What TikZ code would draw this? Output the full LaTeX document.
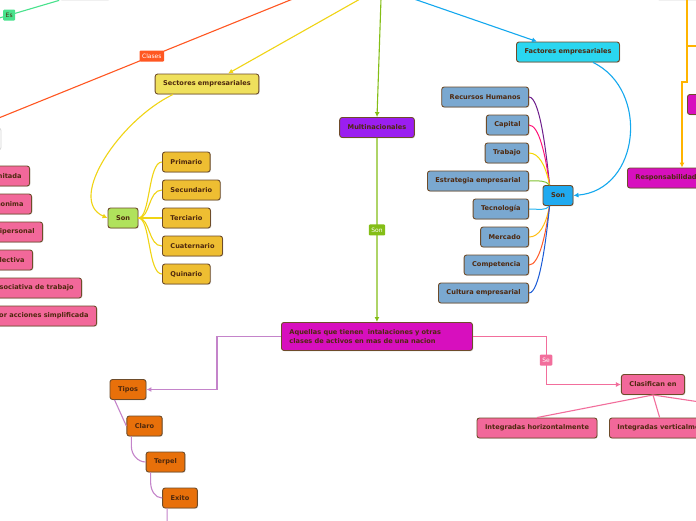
\documentclass[tikz,border=0pt]{standalone}
\usepackage{fontspec}
\setmainfont{DejaVu Sans}
\usetikzlibrary{arrows.meta,shadows}
\definecolor{boxEdge}{RGB}{110, 76, 42}
\definecolor{inkBrown}{RGB}{78, 40, 14}
\definecolor{ghostEdge}{RGB}{215, 215, 215}
\definecolor{pinkFill}{RGB}{242, 104, 154}
\definecolor{sandFill}{RGB}{239, 224, 92}
\definecolor{goldFill}{RGB}{238, 190, 50}
\definecolor{limeFill}{RGB}{176, 226, 92}
\definecolor{violetFill}{RGB}{155, 30, 240}
\definecolor{magentaFill}{RGB}{215, 15, 190}
\definecolor{cyanFill}{RGB}{42, 214, 240}
\definecolor{skyFill}{RGB}{32, 170, 240}
\definecolor{steelFill}{RGB}{122, 168, 208}
\definecolor{rustFill}{RGB}{232, 112, 10}
\definecolor{redLine}{RGB}{255, 87, 34}
\definecolor{yellowLine}{RGB}{240, 212, 20}
\definecolor{leafGreen}{RGB}{132, 190, 22}
\definecolor{blueLine}{RGB}{20, 168, 238}
\definecolor{lilacLine}{RGB}{196, 132, 202}
\definecolor{pinkLine}{RGB}{242, 110, 156}
\definecolor{amberLine}{RGB}{255, 180, 0}
\definecolor{mintLine}{RGB}{72, 226, 140}
\definecolor{brPurple}{RGB}{110, 30, 140}
\definecolor{brPink}{RGB}{255, 20, 120}
\definecolor{brYellow}{RGB}{245, 215, 0}
\definecolor{brGreen}{RGB}{130, 195, 50}
\definecolor{brSky}{RGB}{40, 180, 240}
\definecolor{brAmber}{RGB}{255, 190, 20}
\definecolor{brOrange}{RGB}{255, 90, 40}
\definecolor{brRoyal}{RGB}{25, 90, 215}

\newcommand{\mapfont}{\fontsize{6.6pt}{8.2pt}\selectfont\bfseries}
\newcommand{\tagfont}{\fontsize{6pt}{7pt}\selectfont}

\tikzset{
  mapbox/.style={draw=boxEdge, line width=0.9pt, rounded corners=2.5pt, text=inkBrown,
    font=\mapfont, minimum height=20pt, inner xsep=8pt, inner ysep=2pt,
    drop shadow={opacity=0.25, shadow xshift=0.8pt, shadow yshift=-0.8pt}},
  blankbox/.style={draw=ghostEdge, fill=white, line width=0.8pt, rounded corners=2.5pt},
  tagbox/.style={rounded corners=1pt, font=\tagfont, text=white, inner xsep=2.5pt,
    inner ysep=1.5pt, minimum height=11pt},
  link/.style={line width=1.1pt},
  headed/.style={-{Latex[length=5pt,width=5pt]}}
}

\begin{document}
\begin{tikzpicture}[x=1pt,y=1pt]
  \useasboundingbox (0,0) rectangle (696,-520);
  \clip (0,0) rectangle (696,-520);
  \fill[white] (0,0) rectangle (696,-520);

  % nodes cut by the frame
  \node[blankbox, minimum width=51pt, minimum height=18pt] (topleft) at (85,9) {};
  \node[blankbox, minimum width=52pt, minimum height=22pt] (formas) at (-25,-139) {};
  \node[blankbox, minimum width=60pt, minimum height=18pt] (topright) at (687,9) {};
  \node[mapbox, fill=magentaFill, minimum width=40pt, anchor=west] (sidemag) at (687,-104.5) {};
  \node[mapbox, fill=magentaFill, anchor=west] (resp) at (627,-178) {Responsabilidad social};

  \coordinate (esStart) at (-30,-26.6);
  \coordinate (redStart) at (315,10);
  \coordinate (yelStart) at (376,10);
  \coordinate (grnStart) at (381.3,10);
  \coordinate (bluStart) at (388,10);
  \coordinate (amberFork) at (687,-46);
  \coordinate (amberOut) at (705,-46);
  \coordinate (amberJog) at (687,-82);
  \coordinate (amberDrop) at (682,-82);
  \coordinate (exitoOut) at (167,-530);
  \coordinate (clasOut) at (760,-411);

  % company types on the left
  \node[mapbox, fill=pinkFill, anchor=east] (ltda) at (30,-176) {Sociedad limitada};
  \node[mapbox, fill=pinkFill, anchor=east] (anon) at (32,-204) {Sociedad anonima};
  \node[mapbox, fill=pinkFill, anchor=east] (unip) at (43,-232) {Empresa unipersonal};
  \node[mapbox, fill=pinkFill, anchor=east] (colec) at (33,-260) {Sociedad colectiva};
  \node[mapbox, fill=pinkFill, anchor=east] (asoc) at (82,-288) {Empresa asociativa de trabajo};
  \node[mapbox, fill=pinkFill, anchor=east] (sas) at (97,-316) {Sociedad por acciones simplificada};

  % sectors
  \node[mapbox, fill=sandFill] (sect) at (207,-84) {Sectores empresariales};
  \node[mapbox, fill=limeFill] (sonsec) at (123,-218) {Son};
  \node[mapbox, fill=goldFill, anchor=west] (prim) at (162,-162) {Primario};
  \node[mapbox, fill=goldFill, anchor=west] (secu) at (162,-190) {Secundario};
  \node[mapbox, fill=goldFill, anchor=west] (terc) at (162,-218) {Terciario};
  \node[mapbox, fill=goldFill, anchor=west] (cuat) at (162,-246) {Cuaternario};
  \node[mapbox, fill=goldFill, anchor=west] (quin) at (162,-274) {Quinario};

  % multinationals
  \node[mapbox, fill=violetFill] (multi) at (377,-127.5) {Multinacionales};
  \node[mapbox, fill=magentaFill, anchor=north west, text width=175pt, align=left,
    minimum height=28pt] (aquellas) at (281,-322)
    {Aquellas que tienen\ \ intalaciones y otras\\clases de activos en mas de una nacion};
  \node[mapbox, fill=rustFill] (tipos) at (128,-389.5) {Tipos};
  \node[mapbox, fill=rustFill] (claro) at (144.5,-426) {Claro};
  \node[mapbox, fill=rustFill] (terpel) at (165.5,-462) {Terpel};
  \node[mapbox, fill=rustFill] (exito) at (180,-498) {Exito};
  \node[mapbox, fill=pinkFill] (clas) at (653,-384.5) {Clasifican en};
  \node[mapbox, fill=pinkFill] (horiz) at (537,-428) {Integradas horizontalmente};
  \node[mapbox, fill=pinkFill, anchor=west] (verti) at (609,-428) {Integradas verticalmente};

  % factors
  \node[mapbox, fill=cyanFill] (fact) at (568,-52) {Factores empresariales};
  \node[mapbox, fill=skyFill] (sonfac) at (558,-195.5) {Son};
  \node[mapbox, fill=steelFill, anchor=east] (rh) at (529,-97) {Recursos Humanos};
  \node[mapbox, fill=steelFill, anchor=east] (cap) at (529,-125) {Capital};
  \node[mapbox, fill=steelFill, anchor=east] (trab) at (529,-153) {Trabajo};
  \node[mapbox, fill=steelFill, anchor=east] (estr) at (529,-181) {Estrategia empresarial};
  \node[mapbox, fill=steelFill, anchor=east] (tec) at (529,-209) {Tecnología};
  \node[mapbox, fill=steelFill, anchor=east] (merc) at (529,-237) {Mercado};
  \node[mapbox, fill=steelFill, anchor=east] (comp) at (529,-265) {Competencia};
  \node[mapbox, fill=steelFill, anchor=east] (cult) at (529,-293) {Cultura empresarial};

  % connectors
  \draw[link, mintLine] (esStart) -- node[tagbox, fill=mintLine, text=inkBrown, pos=0.44] (esTag) {Es} (topleft.south west);
  \draw[link, redLine, headed] (redStart) -- node[tagbox, fill=redLine, pos=0.48] (clasesTag) {Clases} (formas.north);
  \draw[link, yellowLine, headed] (yelStart) -- ([xshift=21pt]sect.north);
  \draw[link, leafGreen, headed] (grnStart) -- (multi.north);
  \draw[link, blueLine, headed] (bluStart) -- ([xshift=-31pt]fact.north);
  \draw[link, amberLine, headed] (topright.south) -- (amberJog) -- (amberDrop) -- ([xshift=55pt]resp.north west);
  \draw[link, amberLine] (amberFork) -- (amberOut);

  \draw[link, yellowLine, headed] ([xshift=-34pt]sect.south) .. controls (120,-120) and (66,-200) .. (sonsec.west);
  \foreach \nd in {prim,secu,terc,cuat,quin}
    \draw[link, yellowLine] (sonsec.east) .. controls +(12,0) and +(-14,0) .. (\nd.west);

  \draw[link, leafGreen, headed] (multi.south) -- node[tagbox, fill=leafGreen] (sonTag) {Son} (aquellas.north);
  \draw[link, lilacLine, headed] (aquellas.west) -- ++(-64,0) |- (tipos.east);
  \draw[link, lilacLine] ([xshift=5pt]tipos.south west) -- (claro.west);
  \draw[link, lilacLine] ([xshift=5pt]claro.south west) -- ++(0,-10) .. controls +(0,-8) and +(-8,0) .. (terpel.west);
  \draw[link, lilacLine] ([xshift=5pt]terpel.south west) -- ++(0,-10) .. controls +(0,-8) and +(-7,0) .. (exito.west);
  \draw[link, lilacLine] ([xshift=5pt]exito.south west) -- (exitoOut);

  \draw[link, pinkLine, headed] (aquellas.east) -- ++(74,0) |- (clas.west);
  \node[tagbox, fill=pinkLine] (seTag) at (546,-360) {Se};
  \draw[link, pinkLine] (clas.south) -- (horiz.north);
  \draw[link, pinkLine] (clas.south) -- ([xshift=-5pt]verti.north);
  \draw[link, pinkLine] (clas.south) -- (clasOut);

  \draw[link, blueLine, headed] ([xshift=25pt]fact.south) .. controls (650,-90) and (640,-190) .. (sonfac.east);
  \foreach \nd/\cl/\cy in {rh/brPurple/40, cap/brPink/30, trab/brYellow/20, estr/brGreen/5}
    \draw[line width=1pt, \cl] (\nd.east) .. controls +(10,0) and +(-4,\cy) .. ([xshift=7pt]sonfac.north west);
  \foreach \nd/\cl/\cy in {tec/brSky/5, merc/brAmber/20, comp/brOrange/30, cult/brRoyal/40}
    \draw[line width=1pt, \cl] (\nd.east) .. controls +(10,0) and +(-4,-\cy) .. ([xshift=7pt]sonfac.south west);
\end{tikzpicture}
\end{document}
